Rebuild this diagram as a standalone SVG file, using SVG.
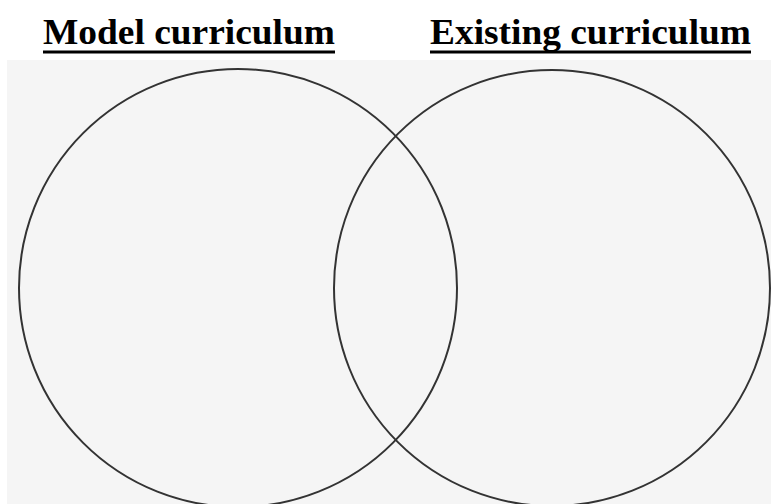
<svg xmlns="http://www.w3.org/2000/svg" width="771" height="504" viewBox="0 0 771 504">
<style>
.title{font-family:"Liberation Serif","Times New Roman",serif;font-weight:bold;font-size:35px;fill:#000}
.ul{stroke:#000;stroke-width:3}
.c{fill:none;stroke:#333;stroke-width:2}
</style>
<rect x="0" y="0" width="771" height="504" fill="#fff"/>
<rect x="7" y="60" width="764" height="444" fill="#f5f5f5"/>
<g id="title-model">
<text class="title" x="43" y="44" textLength="292" lengthAdjust="spacingAndGlyphs">Model curriculum</text>
<line class="ul" x1="43" y1="52" x2="335" y2="52"/>
</g>
<g id="title-existing">
<text class="title" x="430" y="44" textLength="321" lengthAdjust="spacingAndGlyphs">Existing curriculum</text>
<line class="ul" x1="430" y1="52" x2="751" y2="52"/>
</g>
<g id="circle-model"><circle class="c" cx="238" cy="288" r="219"/></g>
<g id="circle-existing"><circle class="c" cx="552" cy="288" r="218"/></g>
<g id="connectors"></g>
</svg>
